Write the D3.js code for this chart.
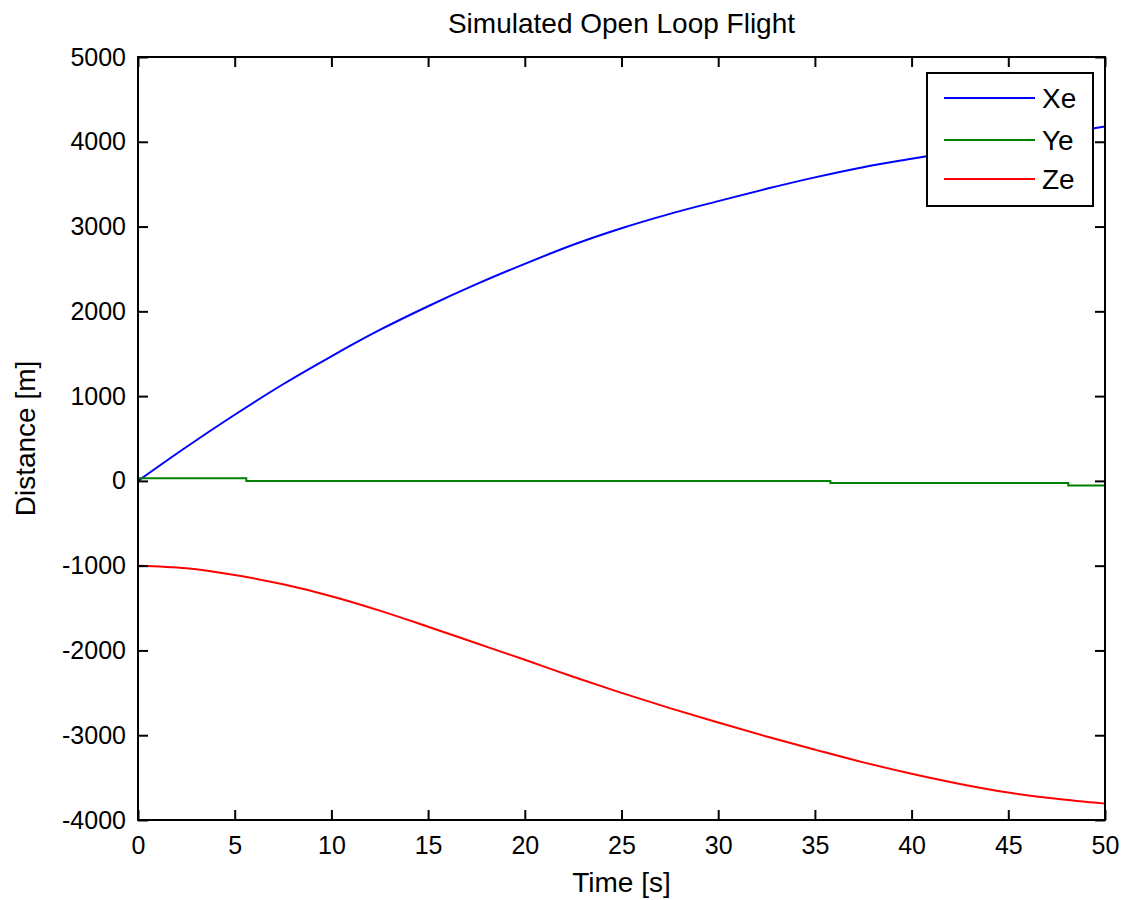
<!DOCTYPE html>
<html>
<head>
<meta charset="utf-8">
<script src="https://cdn.jsdelivr.net/npm/d3@7"></script>
<style>
  body { margin: 0; background: #fff; }
  svg text { font-family: "Liberation Sans Narrow", "Arial Narrow", "Liberation Sans", Arial, sans-serif; fill: #000; }
</style>
</head>
<body>
<svg id="chart"></svg>
<script>
// simulated open loop flight
var timeX = [0, 2.5, 5, 7.5, 10, 12.5, 15, 17.5, 20, 22.5, 25, 27.5, 30, 32.5, 35, 37.5, 40, 42.5, 45, 47.5, 50];
var xeVals = [0, 400, 780, 1140, 1470, 1780, 2060, 2320, 2560, 2785, 2980, 3150, 3300, 3445, 3580, 3700, 3800, 3895, 3990, 4085, 4180];
var zeVals = [-1000, -1030, -1110, -1220, -1360, -1530, -1720, -1915, -2110, -2310, -2500, -2680, -2850, -3015, -3170, -3320, -3455, -3575, -3676, -3750, -3807];

// Ye only moves in small steps
var yeTimes = [0, 5.6, 35.8, 48.1, 50];
var yeVals = [30, 0, -25, -55, -55];

var xTicks = [0, 5, 10, 15, 20, 25, 30, 35, 40, 45, 50];
var yTicks = [-4000, -3000, -2000, -1000, 0, 1000, 2000, 3000, 4000, 5000];

var series = [
  { name: "Xe", color: "#0000ff", pts: timeX.map(function (t, i) { return [t, xeVals[i]]; }), curve: d3.curveMonotoneX },
  { name: "Ye", color: "#008000", pts: yeTimes.map(function (t, i) { return [t, yeVals[i]]; }), curve: d3.curveStepAfter },
  { name: "Ze", color: "#ff0000", pts: timeX.map(function (t, i) { return [t, zeVals[i]]; }), curve: d3.curveMonotoneX }
];

var W = 1123, H = 900;
var plot = { left: 138, top: 57, right: 1105, bottom: 820 };
var fs = 28, tickFs = 25;

var svg = d3.select("#chart").attr("width", W).attr("height", H);

var x = d3.scaleLinear().domain([0, 50]).range([plot.left, plot.right]);
var y = d3.scaleLinear().domain([-4000, 5000]).range([plot.bottom, plot.top]);

svg.append("defs").append("clipPath").attr("id", "clip")
  .append("rect")
  .attr("x", plot.left).attr("y", plot.top)
  .attr("width", plot.right - plot.left).attr("height", plot.bottom - plot.top);

// lines
var line = d3.line().x(function (d) { return x(d[0]); }).y(function (d) { return y(d[1]); });
svg.append("g").attr("clip-path", "url(#clip)")
  .selectAll("path")
  .data(series)
  .enter().append("path")
  .attr("fill", "none")
  .attr("stroke", function (d) { return d.color; })
  .attr("stroke-width", 2)
  .attr("d", function (d) { return line.curve(d.curve)(d.pts); });

// axes, ticks inside on all four sides (plain hyphen for negatives, like matlab)
var plain = function (d) { return String(d); };
var tickLen = 10;
var bottomAxis = d3.axisBottom(x).tickValues(xTicks).tickFormat(plain).tickSizeInner(-tickLen).tickSizeOuter(0).tickPadding(16);
var leftAxis = d3.axisLeft(y).tickValues(yTicks).tickFormat(plain).tickSizeInner(-tickLen).tickSizeOuter(0).tickPadding(12);
var topAxis = d3.axisTop(x).tickValues(xTicks).tickSizeInner(-tickLen).tickSizeOuter(0).tickFormat("");
var rightAxis = d3.axisRight(y).tickValues(yTicks).tickSizeInner(-tickLen).tickSizeOuter(0).tickFormat("");

function styleAxis(g) {
  g.select(".domain").remove();
  g.selectAll("line").attr("stroke", "#000").attr("stroke-width", 2);
  g.selectAll("text").attr("font-size", tickFs).style("font-family", null);
}

svg.append("g").attr("transform", "translate(0," + plot.bottom + ")").call(bottomAxis).call(styleAxis);
svg.append("g").attr("transform", "translate(" + plot.left + ",0)").call(leftAxis).call(styleAxis);
svg.append("g").attr("transform", "translate(0," + plot.top + ")").call(topAxis).call(styleAxis);
svg.append("g").attr("transform", "translate(" + plot.right + ",0)").call(rightAxis).call(styleAxis);

svg.append("rect")
  .attr("x", plot.left).attr("y", plot.top)
  .attr("width", plot.right - plot.left).attr("height", plot.bottom - plot.top)
  .attr("fill", "none").attr("stroke", "#000").attr("stroke-width", 2);

// labels
svg.append("text")
  .attr("x", (plot.left + plot.right) / 2).attr("y", 33)
  .attr("text-anchor", "middle").attr("font-size", fs)
  .text("Simulated Open Loop Flight");

svg.append("text")
  .attr("x", (plot.left + plot.right) / 2).attr("y", 892)
  .attr("text-anchor", "middle").attr("font-size", fs)
  .text("Time [s]");

svg.append("text")
  .attr("transform", "translate(35," + ((plot.top + plot.bottom) / 2) + ") rotate(-90)")
  .attr("text-anchor", "middle").attr("font-size", fs)
  .text("Distance [m]");

// legend
var leg = svg.append("g").attr("transform", "translate(927,73)");
leg.append("rect")
  .attr("width", 166).attr("height", 133)
  .attr("fill", "#fff").attr("stroke", "#000").attr("stroke-width", 2);

var items = leg.selectAll("g.item")
  .data(series)
  .enter().append("g")
  .attr("class", "item")
  .attr("transform", function (d, i) { return "translate(0," + [25, 67, 106][i] + ")"; });

items.append("line")
  .attr("x1", 17).attr("x2", 108)
  .attr("stroke", function (d) { return d.color; })
  .attr("stroke-width", 2);

items.append("text")
  .attr("x", 115).attr("dy", "0.36em")
  .attr("font-size", fs)
  .text(function (d) { return d.name; });
</script>
</body>
</html>
